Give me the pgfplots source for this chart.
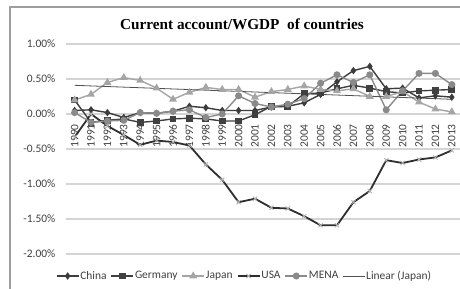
\documentclass[border=0pt]{standalone}
\usepackage{pgfplots}
\usepackage{pgfplotstable}
\pgfplotsset{compat=1.18}
\usepackage{fontspec}
\setmainfont{Carlito}
\newfontfamily\titlefont{Liberation Serif}
\definecolor{cchina}{HTML}{3C3C3C}
\definecolor{cgermany}{HTML}{404040}
\definecolor{cjapan}{HTML}{A5A5A5}
\definecolor{cusa}{HTML}{2E2E2E}
\definecolor{cusamark}{HTML}{B4B4B4}
\definecolor{cmena}{HTML}{8A8A8A}
\definecolor{clin}{HTML}{505050}
\definecolor{cgrid}{HTML}{D4D4D4}
\definecolor{cframe}{HTML}{9E9E9E}
\definecolor{ctext}{HTML}{404040}

\pgfplotstableread{
year china germany japan usa mena
1990 0.05 0.20 0.20 -0.33 0.02
1991 0.06 -0.12 0.28 0.00 -0.12
1992 0.02 -0.09 0.45 -0.17 -0.10
1993 -0.05 -0.07 0.52 -0.30 -0.09
1994 0.02 -0.12 0.48 -0.44 0.02
1995 0.01 -0.10 0.37 -0.38 0.01
1996 0.04 -0.07 0.21 -0.40 0.04
1997 0.11 -0.06 0.31 -0.45 0.06
1998 0.09 -0.07 0.38 -0.72 -0.05
1999 0.05 -0.10 0.35 -0.94 0.00
2000 0.05 -0.10 0.35 -1.26 0.26
2001 0.05 -0.01 0.24 -1.21 0.15
2002 0.10 0.11 0.32 -1.34 0.10
2003 0.11 0.11 0.35 -1.35 0.14
2004 0.16 0.29 0.40 -1.46 0.22
2005 0.28 0.30 0.35 -1.59 0.44
2006 0.46 0.36 0.33 -1.59 0.56
2007 0.62 0.41 0.36 -1.26 0.45
2008 0.68 0.37 0.25 -1.10 0.56
2009 0.36 0.32 0.25 -0.66 0.06
2010 0.37 0.30 0.32 -0.70 0.33
2011 0.23 0.33 0.17 -0.65 0.58
2012 0.26 0.34 0.07 -0.62 0.58
2013 0.24 0.35 0.03 -0.52 0.42
}\data

\begin{document}
\begin{tikzpicture}[x=1bp,y=1bp]
\draw[cframe, line width=1.2bp] (10,-20) -- (10,281) -- (480,281);
\node[font=\titlefont\bfseries\fontsize{15.3}{18}\selectfont, anchor=base] at (242,258.5) {Current account/WGDP\ \ of countries};
\begin{axis}[
  at={(66.4bp,34bp)}, anchor=south west,
  scale only axis, width=393.6bp, height=210bp,
  xmin=1989.5, xmax=2013.5, ymin=-2, ymax=1,
  axis x line*=middle, axis y line*=left,
  axis line style={draw=none},
  every inner x axis line/.append style={-},
  every outer y axis line/.append style={-},
  major tick length=0pt,
  xtick={1990,1991,1992,1993,1994,1995,1996,1997,1998,1999,2000,2001,2002,2003,2004,2005,2006,2007,2008,2009,2010,2011,2012,2013},
  xticklabels={1990,1991,1992,1993,1994,1995,1996,1997,1998,1999,2000,2001,2002,2003,2004,2005,2006,2007,2008,2009,2010,2011,2012,2013},
  xticklabel style={rotate=90, anchor=east, inner xsep=10bp, font=\fontsize{11.5}{12}\selectfont, text=ctext},
  ytick={-2,-1.5,-1,-0.5,0,0.5,1},
  yticklabels={-2.00\%,-1.50\%,-1.00\%,-0.50\%,0.00\%,0.50\%,1.00\%},
  yticklabel style={font=\fontsize{11.5}{12}\selectfont, text=ctext, xshift=-7.5bp},
  ymajorgrids, grid style={cgrid, line width=1.2bp},
  clip=false,
  legend image code/.code={\draw[mark repeat=2,mark phase=2,#1] plot coordinates {(0bp,0bp) (11bp,0bp) (22bp,0bp)};},
  legend columns=-1,
  legend style={at={(axis description cs:0.4512,-0.1048)}, anchor=center, draw=none, fill=none,
    font=\fontsize{11.5}{12}\selectfont, text=ctext, inner sep=0pt,
    /tikz/every even column/.append style={column sep=3bp},
    nodes={inner xsep=1bp}},
]
\addplot[cchina, line width=1.4bp, mark=diamond*, mark size=2.6bp, mark options={solid}] table[x=year,y=china] {\data};
\addlegendentry{China}
\addplot[cgermany, line width=1.4bp, mark=square*, mark size=2.7bp] table[x=year,y=germany] {\data};
\addlegendentry{Germany}
\addplot[cjapan, line width=1.4bp, mark=triangle*, mark size=3.2bp] table[x=year,y=japan] {\data};
\addlegendentry{Japan}
\addplot[cusa, line width=1.8bp, mark=x, mark size=3bp, mark options={cusamark, line width=0.8bp}] table[x=year,y=usa] {\data};
\addlegendentry{USA}
\addplot[cmena, line width=1.4bp, mark=*, mark size=2.8bp] table[x=year,y=mena] {\data};
\addlegendentry{MENA}
\addplot[clin, line width=0.8bp] coordinates {(1990,0.41) (2013,0.21)};
\addlegendentry{Linear (Japan)}
\end{axis}
\pgfresetboundingbox
\path[use as bounding box] (0,0) rectangle (460,288);
\end{tikzpicture}
\end{document}
